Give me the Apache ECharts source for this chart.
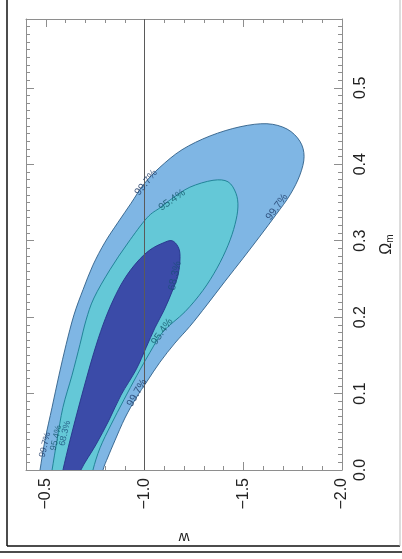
<!DOCTYPE html>
<html>
<head>
<meta charset="utf-8">
<script src="https://cdn.jsdelivr.net/npm/echarts@6/dist/echarts.min.js"></script>
<style>
  html, body { margin: 0; padding: 0; background: #fff; }
  #chart { width: 402px; height: 559px; }
</style>
</head>
<body>
<div id="chart"></div>
<script>
// Axis ranges and tick steps
const wRange = [-2.0, -0.4];
const omegaRange = [0, 0.59];
const wMajorStep = 0.5, wMinorStep = 0.1;
const omegaMajorStep = 0.1, omegaMinorStep = 0.01;
const referenceW = -1.0;

// Confidence contours in (w, Omega_m); ends run just below Omega_m = 0 and are clipped by the grid
const contour997 = [
  [-0.456, -0.026], [-0.471, 0.000], [-0.496, 0.039], [-0.532, 0.082], [-0.567, 0.124],
  [-0.603, 0.164], [-0.643, 0.203], [-0.689, 0.236], [-0.739, 0.268], [-0.800, 0.298],
  [-0.866, 0.324], [-0.932, 0.349], [-0.997, 0.374], [-1.078, 0.396], [-1.190, 0.419],
  [-1.332, 0.437], [-1.484, 0.449], [-1.620, 0.453], [-1.722, 0.446], [-1.787, 0.430],
  [-1.808, 0.410], [-1.787, 0.386], [-1.737, 0.360], [-1.666, 0.334], [-1.585, 0.306],
  [-1.499, 0.277], [-1.408, 0.247], [-1.316, 0.216], [-1.230, 0.188], [-1.154, 0.166],
  [-1.078, 0.141], [-1.013, 0.116], [-0.957, 0.094], [-0.901, 0.068], [-0.851, 0.039],
  [-0.815, 0.017], [-0.790, 0.000], [-0.770, -0.026]
];
const contour954 = [
  [-0.516, -0.026], [-0.532, 0.000], [-0.557, 0.039], [-0.587, 0.082], [-0.633, 0.124],
  [-0.673, 0.164], [-0.704, 0.196], [-0.744, 0.225], [-0.825, 0.262], [-0.916, 0.297],
  [-1.013, 0.330], [-1.078, 0.343], [-1.139, 0.355], [-1.230, 0.370], [-1.347, 0.379],
  [-1.423, 0.377], [-1.463, 0.362], [-1.473, 0.344], [-1.458, 0.321], [-1.423, 0.294],
  [-1.367, 0.264], [-1.296, 0.235], [-1.205, 0.207], [-1.094, 0.181], [-1.028, 0.154],
  [-0.962, 0.124], [-0.896, 0.092], [-0.830, 0.059], [-0.775, 0.029], [-0.739, 0.000],
  [-0.719, -0.026]
];
const contour683 = [
  [-0.567, -0.026], [-0.587, 0.000], [-0.623, 0.039], [-0.663, 0.079], [-0.704, 0.118],
  [-0.744, 0.154], [-0.790, 0.190], [-0.841, 0.222], [-0.896, 0.249], [-0.962, 0.272],
  [-1.028, 0.288], [-1.094, 0.297], [-1.139, 0.300], [-1.170, 0.292], [-1.180, 0.279],
  [-1.170, 0.255], [-1.139, 0.233], [-1.099, 0.209], [-1.053, 0.186], [-1.008, 0.160],
  [-0.957, 0.131], [-0.881, 0.098], [-0.820, 0.065], [-0.754, 0.033], [-0.678, 0.000],
  [-0.648, -0.026]
];

// Contour level labels: [w, Omega_m, text]
const contourLabels = [
  [-1.008, 0.376, '99.7%'],
  [-1.139, 0.353, '95.4%'],
  [-1.671, 0.344, '99.7%'],
  [-1.154, 0.254, '68.3%'],
  [-1.089, 0.181, '95.4%'],
  [-0.962, 0.101, '99.7%'],
  [-0.496, 0.033, '99.7%'],
  [-0.552, 0.042, '95.4%'],
  [-0.597, 0.048, '68.3%']
];
const labelAngles = [51, 35, 54, 78, 55, 60, 77, 77, 77];
const labelSizes = [10.5, 10.5, 10.5, 10.5, 10.5, 10.5, 9, 9, 9];
const labelColors = ['#1d3a66', '#135569', '#1d3a66', '#1a4f7a', '#135569', '#1d3a66', '#1d3a66', '#135569', '#1a4f7a'];

const FONT = 'Liberation Sans, Arial, Helvetica, sans-serif';
const AXIS_GREY = '#8e8e8e';
const fmt = v => v.toFixed(1).replace('-', '\u2212');

function wAxis(position, step, tickLen, withLine, withLabels) {
  const a = {
    type: 'value', position, min: wRange[0], max: wRange[1], inverse: true, interval: step,
    axisLine: { show: withLine, onZero: false, lineStyle: { color: AXIS_GREY, width: 1 } },
    axisTick: { show: true, inside: true, length: tickLen, lineStyle: { color: AXIS_GREY, width: 1 } },
    axisLabel: { show: false },
    splitLine: { show: false }
  };
  if (withLabels) {
    a.axisLabel = {
      show: true, rotate: 90, margin: 8, fontSize: 16, color: '#222', fontFamily: FONT,
      showMaxLabel: false, formatter: fmt
    };
    a.name = 'w';
    a.nameLocation = 'middle';
    a.nameGap = 60;
    a.nameRotate = 180;
    a.nameTextStyle = { fontSize: 15, color: '#222', fontFamily: FONT };
  }
  return a;
}

function omegaAxis(position, step, tickLen, withLine, withLabels) {
  const a = {
    type: 'value', position, min: omegaRange[0], max: omegaRange[1], interval: step,
    axisLine: { show: withLine, onZero: false, lineStyle: { color: AXIS_GREY, width: 1 } },
    axisTick: { show: true, inside: true, length: tickLen, lineStyle: { color: AXIS_GREY, width: 1 } },
    axisLabel: { show: false },
    splitLine: { show: false }
  };
  if (withLabels) {
    a.axisLabel = {
      show: true, rotate: 90, margin: 11, fontSize: 16, color: '#222', fontFamily: FONT,
      showMaxLabel: false, formatter: fmt
    };
    a.name = '{o|\u03A9}{m|m}';
    a.nameLocation = 'middle';
    a.nameGap = 36;
    a.nameRotate = 90;
    a.nameTextStyle = {
      fontFamily: FONT,
      rich: {
        o: { fontSize: 16, color: '#222', fontFamily: FONT },
        m: { fontSize: 10, color: '#222', fontFamily: FONT, padding: [7, 0, 0, 0] }
      }
    };
  }
  return a;
}

// Closed Catmull-Rom curve through the projected contour points, as an SVG path
function closedCurvePath(pts) {
  const n = pts.length;
  let d = 'M' + pts[0][0].toFixed(2) + ' ' + pts[0][1].toFixed(2);
  for (let i = 0; i < n; i++) {
    const p0 = pts[(i - 1 + n) % n], p1 = pts[i], p2 = pts[(i + 1) % n], p3 = pts[(i + 2) % n];
    const c1x = p1[0] + (p2[0] - p0[0]) / 6, c1y = p1[1] + (p2[1] - p0[1]) / 6;
    const c2x = p2[0] - (p3[0] - p1[0]) / 6, c2y = p2[1] - (p3[1] - p1[1]) / 6;
    d += ' C' + [c1x, c1y, c2x, c2y, p2[0], p2[1]].map(v => v.toFixed(2)).join(' ');
  }
  return d + ' Z';
}

function contourSeries(points, fill, stroke, z) {
  return {
    type: 'custom', coordinateSystem: 'cartesian2d', xAxisIndex: 0, yAxisIndex: 0,
    silent: true, z, data: [0],
    renderItem: (params, api) => ({
      type: 'group',
      clipPath: { type: 'rect', shape: { x: params.coordSys.x, y: params.coordSys.y, width: params.coordSys.width, height: params.coordSys.height } },
      children: [{
        type: 'path',
        shape: { pathData: closedCurvePath(points.map(p => api.coord(p))) },
        style: { fill, stroke, lineWidth: 0.9 }
      }]
    })
  };
}

const chart = echarts.init(document.getElementById('chart'), null, { renderer: 'canvas' });
chart.setOption({
  animation: false,
  backgroundColor: '#fff',
  grid: { left: 26, top: 19, width: 316, height: 451, containLabel: false, outerBoundsMode: 'none' },
  xAxis: [
    wAxis('bottom', wMajorStep, 8, true, true),
    wAxis('bottom', wMinorStep, 4, false, false),
    wAxis('top', wMajorStep, 8, true, false),
    wAxis('top', wMinorStep, 4, false, false)
  ],
  yAxis: [
    omegaAxis('right', omegaMajorStep, 8, true, true),
    omegaAxis('right', omegaMinorStep, 4, false, false),
    omegaAxis('left', omegaMajorStep, 8, true, false),
    omegaAxis('left', omegaMinorStep, 4, false, false)
  ],
  series: [
    contourSeries(contour997, '#7fb6e4', '#2f5f88', 2),
    contourSeries(contour954, '#64c8d7', '#1a7d90', 3),
    contourSeries(contour683, '#3b4ba8', '#27348a', 4),
    {
      type: 'line', xAxisIndex: 0, yAxisIndex: 0, z: 6, silent: true,
      symbol: 'none', lineStyle: { color: '#5a5a5a', width: 1 },
      data: [[referenceW, omegaRange[0]], [referenceW, omegaRange[1]]]
    },
    {
      type: 'scatter', xAxisIndex: 0, yAxisIndex: 0, z: 8, silent: true, symbolSize: 0,
      label: { show: true, position: 'inside', formatter: '{b}', fontFamily: FONT },
      data: contourLabels.map((l, i) => ({
        value: [l[0], l[1]], name: l[2],
        label: { rotate: labelAngles[i], fontSize: labelSizes[i], color: labelColors[i] }
      }))
    }
  ],
  graphic: [
    { type: 'line', shape: { x1: 7, y1: 0, x2: 7, y2: 546 }, style: { stroke: '#111', lineWidth: 1.5 } },
    { type: 'line', shape: { x1: 7, y1: 546, x2: 400, y2: 546 }, style: { stroke: '#111', lineWidth: 1.5 } },
    { type: 'line', shape: { x1: 400, y1: 0, x2: 400, y2: 546 }, style: { stroke: '#bbbbbb', lineWidth: 1 } },
    { type: 'line', shape: { x1: 0, y1: 552, x2: 402, y2: 552 }, style: { stroke: '#111', lineWidth: 1.5 } }
  ]
});
</script>
</body>
</html>
